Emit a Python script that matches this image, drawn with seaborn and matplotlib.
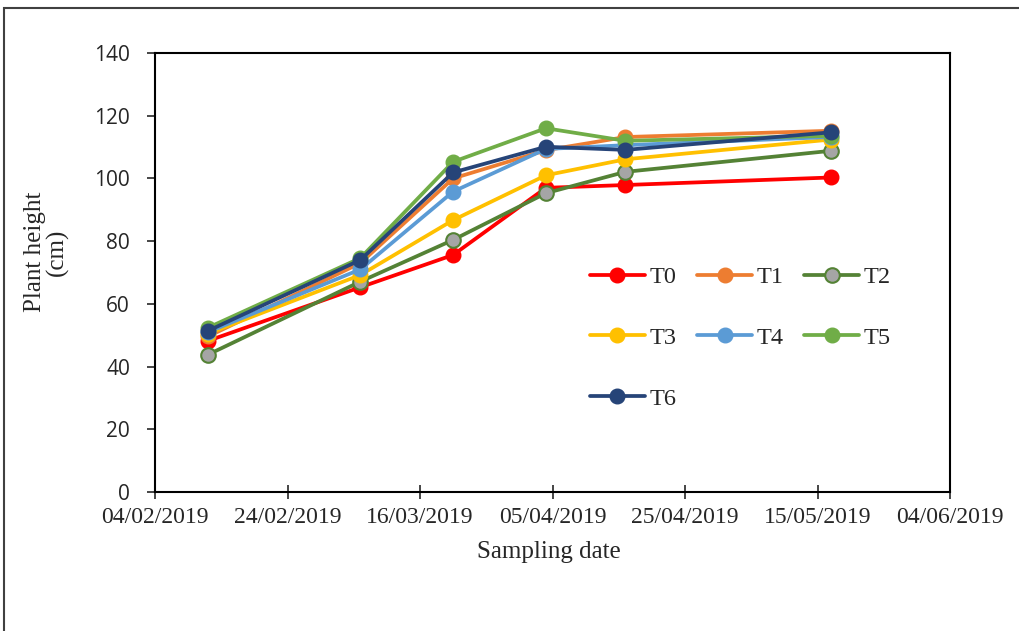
import matplotlib
matplotlib.use("Agg")
import matplotlib.pyplot as plt
import matplotlib.dates as mdates
from matplotlib.patches import Rectangle
import seaborn as sns
import pandas as pd

# ---- data ----
sampling_dates = ["2019-02-12", "2019-03-07", "2019-03-21", "2019-04-04", "2019-04-16", "2019-05-17"]
treatments = ["T0", "T1", "T2", "T3", "T4", "T5", "T6"]
T0 = [48.2, 65.3, 75.6, 97.0, 97.9, 100.3]
T1 = [49.6, 73.0, 100.0, 109.0, 113.2, 115.2]
T2 = [43.8, 67.1, 80.4, 95.3, 102.1, 108.8]
T3 = [50.5, 69.2, 86.7, 101.0, 106.1, 112.4]
T4 = [51.0, 71.0, 95.8, 109.4, 110.6, 113.2]
T5 = [52.4, 74.6, 105.3, 116.0, 112.0, 113.6]
T6 = [51.4, 74.0, 101.9, 110.1, 109.1, 114.7]
series_values = [T0, T1, T2, T3, T4, T5, T6]
x_start, x_end = "2019-02-04", "2019-06-04"
y_ticks = [0, 20, 40, 60, 80, 100, 120, 140]

line_colors = ["#FF0000", "#ED7D31", "#548235", "#FFC000", "#5B9BD5", "#70AD47", "#264478"]
face_colors = ["#FF0000", "#ED7D31", "#A5A5A5", "#FFC000", "#5B9BD5", "#70AD47", "#264478"]

rows = []
for name, vals in zip(treatments, series_values):
    for d, v in zip(sampling_dates, vals):
        rows.append({"date": pd.Timestamp(d), "height": v, "treatment": name})
df = pd.DataFrame(rows)

sns.set_style("ticks")
plt.rcParams["font.family"] = ["Liberation Serif", "DejaVu Serif"]

fig = plt.figure(figsize=(10.2, 6.31), dpi=100)
ax = fig.add_axes([155 / 1020, (631 - 492) / 631, 795 / 1020, 439 / 631])

for name, lc, fc in zip(treatments, line_colors, face_colors):
    sub = df[df["treatment"] == name]
    sns.lineplot(data=sub, x="date", y="height", ax=ax, color=lc, linewidth=2.7,
                 marker="o", markersize=10.5, markerfacecolor=fc, markeredgecolor=lc,
                 markeredgewidth=1.5 if name == "T2" else 1.0, label=name, legend=False)

ax.set_xlim(pd.Timestamp(x_start), pd.Timestamp(x_end))
ax.set_ylim(0, 140)
ax.set_yticks(y_ticks)
ax.set_xticks(pd.date_range(x_start, x_end, freq="20D"))
ax.xaxis.set_major_formatter(mdates.DateFormatter("%d/%m/%Y"))

for s in ax.spines.values():
    s.set_color("black")
    s.set_linewidth(1.5)

ax.tick_params(axis="x", direction="inout", length=10, width=1.2, pad=6, labelsize=17)
ax.tick_params(axis="y", direction="out", length=6, width=1.2, pad=12, labelsize=15)
for lab in ax.get_yticklabels():
    lab.set_family(["Open Sans", "DejaVu Sans"])

ax.set_xlabel("Sampling date", fontsize=18)
ax.xaxis.set_label_coords(0.496, -0.112)
ax.set_ylabel("Plant height\n(cm)", fontsize=18, linespacing=1.0)
ax.yaxis.set_label_coords(-0.137, 0.547)
ax.yaxis.label.set_va("center")

handles, labels = ax.get_legend_handles_labels()
order = [0, 3, 6, 1, 4, 2, 5]  # row-major reading order T0 T1 T2 / T3 T4 T5 / T6
ax.legend([handles[i] for i in order], [labels[i] for i in order], ncol=3, frameon=False,
          loc="upper left",
          bbox_to_anchor=((590 - 155) / 795, (492 - 266) / 439), borderaxespad=0,
          borderpad=0, fontsize=17.5, handlelength=2.25, handletextpad=0.2,
          columnspacing=0.85, labelspacing=1.6)

fig.patches.append(Rectangle((4 / 1020, -0.1), 1.2, 1.1 - 8 / 631, transform=fig.transFigure,
                             fill=False, edgecolor="#404040", linewidth=1.5))

fig.savefig("out.png", dpi=100)
